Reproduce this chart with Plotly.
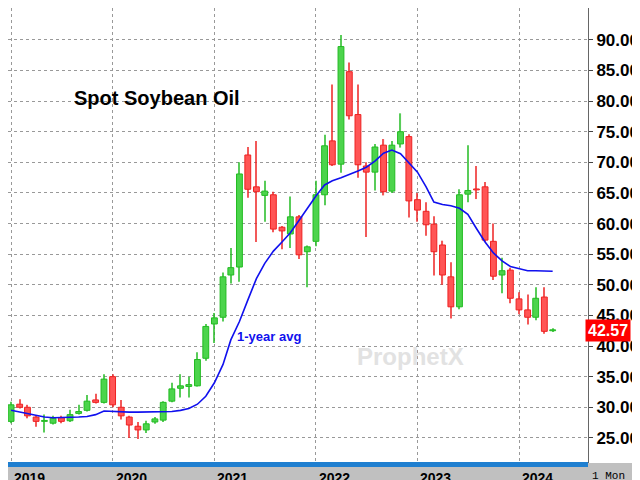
import plotly.graph_objects as go
import pandas as pd

months = pd.date_range("2019-01-01", "2024-05-01", freq="MS")
opens = [27.7,30.5,30.0,28.4,27.7,27.4,28.3,27.8,29.0,29.5,31.2,30.8,
         35.0,30.0,28.4,26.9,26.3,27.6,27.9,31.0,33.1,33.4,33.5,38.0,
         43.6,44.7,51.6,52.9,71.2,66.0,64.6,64.7,59.4,58.3,61.1,55.4,
         57.1,64.7,73.5,69.7,84.8,77.8,69.4,68.4,72.8,65.3,73.0,74.2,
         63.9,62.0,59.9,56.5,51.3,46.4,64.8,65.6,66.0,57.1,51.6,52.4,
         47.7,45.9,44.7,48.0,42.5]
closes = [30.4,30.0,28.6,27.7,27.7,28.2,27.7,28.8,29.3,31.0,30.8,34.6,
          30.4,28.6,27.1,26.3,27.3,28.1,30.8,33.0,33.5,33.7,37.8,43.2,
          44.6,51.3,52.8,68.1,65.6,65.2,65.3,59.1,58.8,61.1,54.9,56.2,
          64.7,72.7,69.6,88.9,77.6,69.6,68.4,72.5,65.2,72.8,75.0,63.7,
          62.2,59.8,55.4,51.6,46.4,64.7,65.4,65.5,57.3,51.4,52.3,47.8,
          45.9,44.7,47.8,42.4,42.57]
highs = [30.9,31.3,30.4,28.6,28.8,28.6,28.6,29.6,30.4,32.0,32.2,35.4,
         35.4,31.2,28.6,27.6,27.8,28.4,31.0,34.0,35.4,35.0,39.0,43.6,
         45.4,52.0,56.0,70.0,72.5,73.5,67.0,65.2,59.6,64.4,61.4,56.4,
         67.0,74.5,82.7,90.8,86.3,82.7,70.0,73.0,73.8,73.5,78.0,74.6,
         65.0,63.5,61.2,57.2,53.7,65.6,72.8,69.4,66.8,60.0,54.4,52.8,
         48.8,48.4,49.6,49.6,42.9]
lows = [27.4,29.8,28.2,26.8,25.9,27.2,27.4,27.6,28.8,29.3,30.6,30.6,
        30.0,28.0,25.0,24.8,25.8,27.3,27.6,30.8,31.6,31.6,33.4,37.6,
        40.5,44.0,50.2,50.5,64.2,57.0,60.3,58.6,55.8,56.0,54.2,49.6,
        56.3,63.0,69.4,68.3,77.0,67.5,57.8,65.4,64.6,65.0,72.4,61.0,
        60.3,58.0,51.5,50.0,44.5,46.0,63.5,64.0,57.0,50.8,48.6,47.0,
        45.2,43.5,44.2,42.0,42.3]
avg_1yr = [29.5,29.2,28.9,28.6,28.4,28.3,28.3,28.3,28.4,28.5,28.8,29.4,
           29.3,29.2,29.2,29.2,29.2,29.2,29.2,29.3,29.5,29.8,30.5,31.8,
           34.0,37.0,41.0,44.0,47.5,51.0,53.5,55.5,57.0,58.5,60.5,62.5,
           64.5,66.3,67.0,67.5,68.0,68.6,69.2,70.2,71.5,72.0,71.4,70.0,
           68.4,66.0,63.5,63.1,62.9,62.5,61.5,59.2,57.0,55.2,53.9,53.0,
           52.6,52.3,52.3,52.2,52.2]
year_labels = ["2019","2020","2021","2022","2023","2024"]
ytick_vals = [25,30,35,40,45,50,55,60,65,70,75,80,85,90]
last_price = 42.57

DAY = 86400000
fig = go.Figure()
for up, fill, line in [(True, "#4cd44c", "#22bb22"), (False, "#ff5555", "#ee2222")]:
    idx = [i for i in range(len(months)) if (closes[i] >= opens[i]) == up]
    xs = [months[i] for i in idx]
    fig.add_trace(go.Bar(x=xs, base=[lows[i] for i in idx],
                         y=[highs[i] - lows[i] for i in idx], width=4 * DAY,
                         marker=dict(color=line, line=dict(width=0)),
                         opacity=0.75, showlegend=False, hoverinfo="skip"))
    fig.add_trace(go.Bar(x=xs, base=[min(opens[i], closes[i]) for i in idx],
                         y=[max(abs(closes[i] - opens[i]), 0.15) for i in idx], width=21 * DAY,
                         marker=dict(color=fill, line=dict(color=line, width=1)),
                         showlegend=False))
fig.add_trace(go.Scatter(x=months, y=avg_1yr, mode="lines",
                         line=dict(color="#1010ee", width=1.6), showlegend=False))

ann = []
for y in year_labels:
    ann.append(dict(x=f"{y}-01-01", y=-0.012, xref="x", yref="paper", text=f"<b>{y}</b>",
                    showarrow=False, xanchor="left", yanchor="top", xshift=1,
                    font=dict(family="Arial", size=14, color="black")))
ann += [
    dict(x=0.11, y=0.83, xref="paper", yref="paper", text="<b>Spot Soybean Oil</b>",
         showarrow=False, xanchor="left", font=dict(family="Arial", size=20, color="black")),
    dict(x="2021-03-15", y=41.5, text="<b>1-year avg</b>", showarrow=False, xanchor="left",
         font=dict(family="Arial", size=13, color="#1010ee")),
    dict(x=1.0, y=last_price, xref="paper", yref="y", text=f"<b>{last_price:.2f}</b>",
         showarrow=False, xanchor="left", bgcolor="#ff0000", xshift=-3,
         font=dict(family="Arial", size=16, color="white"), borderpad=2),
    dict(x=0.79, y=0.2, xref="paper", yref="paper", text="<b>ProphetX</b>", showarrow=False,
         font=dict(family="Arial", size=24, color="#e2e2e2")),
    dict(x=1.0, y=-0.012, xref="paper", yref="paper", text="1 Mon", showarrow=False,
         xanchor="left", yanchor="top", xshift=2,
         font=dict(family="Courier New, monospace", size=11, color="black")),
]
shapes = [
    dict(type="rect", xref="paper", yref="paper", x0=0, x1=1.2, y0=-0.06, y1=0,
         fillcolor="#c0c0c0", line=dict(width=0), layer="below"),
    dict(type="rect", xref="paper", yref="paper", x0=0, x1=1, y0=-0.009, y1=0.002,
         fillcolor="#1f7fd0", line=dict(width=0)),
]

fig.update_layout(
    width=640, height=480, margin=dict(l=0, r=60, t=0, b=25),
    paper_bgcolor="white", plot_bgcolor="white", barmode="overlay",
    annotations=ann, shapes=shapes,
    xaxis=dict(range=["2018-12-21", "2024-09-05"],
               showticklabels=False, dtick="M12", tick0="2019-01-01",
               showgrid=True, gridcolor="#999999", griddash="dot", zeroline=False),
    yaxis=dict(range=[20.9, 95.2], side="right", tickvals=ytick_vals,
               ticktext=[f"<b>{v:.2f}</b>" for v in ytick_vals],
               tickfont=dict(family="Arial", size=17, color="black"),
               showgrid=True, gridcolor="#999999", griddash="dot",
               ticks="outside", ticklen=4, showline=True, linecolor="#666666",
               zeroline=False),
)
fig.write_html("out.html")
